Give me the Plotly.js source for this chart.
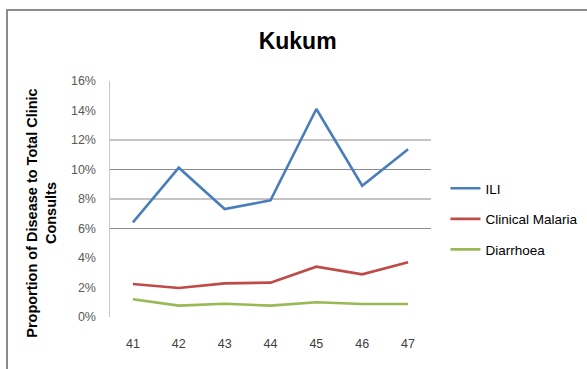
<!DOCTYPE html>
<html>
<head>
<meta charset="utf-8">
<script src="https://cdn.plot.ly/plotly-3.0.1.min.js"></script>
<style>
  html, body { margin: 0; padding: 0; background: #fff; }
  #wrap { position: relative; width: 587px; height: 369px; overflow: hidden; }
  #chart { position: absolute; left: 0; top: 0; width: 587px; height: 369px; }
  #frame { position: absolute; left: 6px; top: 9px; width: 700px; height: 500px;
           border-top: 2px solid #8c8c8c; border-left: 2px solid #8c8c8c; pointer-events: none; }
</style>
</head>
<body>
<div id="wrap">
  <div id="chart"></div>
  <div id="frame"></div>
</div>
<script>
const weeks = ['41', '42', '43', '44', '45', '46', '47'];
const ili = [0.0642, 0.1012, 0.0732, 0.0791, 0.1410, 0.0890, 0.1137];
const malaria = [0.0224, 0.0197, 0.0228, 0.0233, 0.0341, 0.0289, 0.0371];
const diarrhoea = [0.0120, 0.0077, 0.0090, 0.0077, 0.0100, 0.0088, 0.0088];
const yTicks = [0, 0.02, 0.04, 0.06, 0.08, 0.10, 0.12, 0.14, 0.16];
const gridVals = [0.06, 0.08, 0.10, 0.12];
const yTitle = '<b>Proportion of Disease to Total Clinic<br>Consults</b>';

const seriesNames = ['ILI', 'Clinical Malaria', 'Diarrhoea'];
const seriesColors = ['#4a7ebb', '#be4b48', '#98b954'];
const seriesData = [ili, malaria, diarrhoea];

const traces = seriesData.map((d, i) => ({
  x: weeks, y: d, type: 'scatter', mode: 'lines',
  name: seriesNames[i], legendgroup: 'g' + i,
  line: { color: seriesColors[i], width: 2.6 },
  hoverinfo: 'skip'
}));

const gridShapes = gridVals.map(v => ({
  type: 'line', xref: 'paper', yref: 'y', x0: 0, x1: 1, y0: v, y1: v,
  line: { color: '#8a8a8a', width: 1.2 }, layer: 'below'
}));

const layout = {
  width: 587, height: 369,
  margin: { l: 110, r: 156, t: 81, b: 52, autoexpand: false },
  paper_bgcolor: '#ffffff', plot_bgcolor: 'rgba(0,0,0,0)',
  font: { family: 'Liberation Sans Narrow, Liberation Sans, sans-serif', size: 12, color: '#404040' },
  title: {
    text: '<b>Kukum</b>', x: 0.507, xref: 'container', xanchor: 'center',
    y: 1.125, yref: 'paper', yanchor: 'middle',
    font: { family: 'Liberation Sans, sans-serif', size: 23, color: '#000000' }
  },
  xaxis: {
    type: 'category', range: [-0.5, 6.5],
    showline: false, zeroline: false, showgrid: false, ticks: '',
    ticklabelstandoff: 17,
    tickfont: { size: 12.5, color: '#404040' }
  },
  yaxis: {
    range: [0, 0.16], tickvals: yTicks, tickformat: '.0%',
    showgrid: false, zeroline: false,
    showline: true, linecolor: '#c8c8c8', linewidth: 1.5,
    ticks: '', ticklabelstandoff: 10,
    tickfont: { size: 12.5, color: '#595959' }
  },
  annotations: [{
    text: yTitle, textangle: -90, showarrow: false,
    xref: 'paper', yref: 'paper', x: -0.213, y: 0.44,
    xanchor: 'center', yanchor: 'middle',
    font: { family: 'Liberation Sans, sans-serif', size: 14.5, color: '#000000' }
  }],
  shapes: gridShapes,
  showlegend: true,
  legend: {
    x: 1.045, xanchor: 'left', y: 0.61, yanchor: 'top',
    traceorder: 'grouped', tracegroupgap: 10,
    font: { family: 'Liberation Sans Narrow, Liberation Sans, sans-serif', size: 13.5, color: '#000000' },
    bgcolor: 'rgba(0,0,0,0)', borderwidth: 0
  }
};

Plotly.newPlot('chart', traces, layout, { displayModeBar: false, staticPlot: true });
</script>
</body>
</html>
